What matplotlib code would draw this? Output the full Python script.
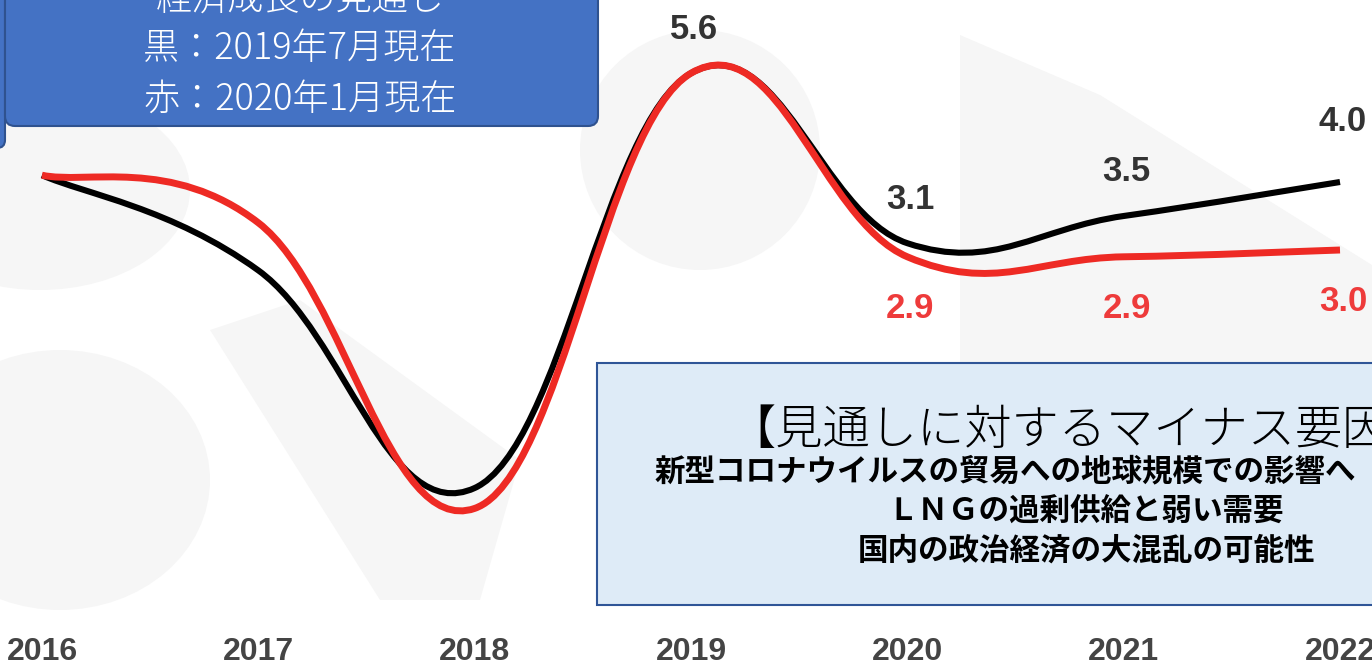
import numpy as np
import matplotlib.pyplot as plt
from matplotlib.path import Path
from matplotlib.patches import PathPatch, FancyBboxPatch, Rectangle, Ellipse, Polygon

plt.rcParams['font.family'] = ['Noto Sans CJK JP', 'DejaVu Sans']

# data
years = [2016, 2017, 2018, 2019, 2020, 2021, 2022]
black_vals = [4.1, 2.7, -0.5, 5.6, 3.1, 3.5, 4.0]   # 2019年7月現在
red_vals = [4.1, 3.4, -0.8, 5.6, 2.9, 2.9, 3.0]     # 2020年1月現在
black_labels = {2019: '5.6', 2020: '3.1', 2021: '3.5', 2022: '4.0'}
red_labels = {2020: '2.9', 2021: '2.9', 2022: '3.0'}

box_title = ['経済成長の見通し', '黒：2019年7月現在', '赤：2020年1月現在']
risk_title = '【見通しに対するマイナス要因'
risk_items = ['新型コロナウイルスの貿易への地球規模での影響へ',
              'ＬＮＧの過剰供給と弱い需要',
              '国内の政治経済の大混乱の可能性']


def smooth_path(xs, ys, k=0.2):
    # cubic bezier through the points (chart-style tension)
    n = len(xs)
    verts = [(xs[0], ys[0])]
    codes = [Path.MOVETO]
    for i in range(n - 1):
        p = max(i - 1, 0)
        q = min(i + 2, n - 1)
        c1 = (xs[i] + k * (xs[i + 1] - xs[p]), ys[i] + k * (ys[i + 1] - ys[p]))
        c2 = (xs[i + 1] - k * (xs[q] - xs[i]), ys[i + 1] - k * (ys[q] - ys[i]))
        verts += [c1, c2, (xs[i + 1], ys[i + 1])]
        codes += [Path.CURVE4] * 3
    return Path(verts, codes)


W, H = 1372, 665
fig = plt.figure(figsize=(W / 100, H / 100), dpi=100)
fig.patch.set_facecolor('white')

# faint background shapes (pixel coords)
bg = fig.add_axes([0, 0, 1, 1], zorder=0)
bg.set_xlim(0, W)
bg.set_ylim(H, 0)
bg.axis('off')
shade = '#f6f6f6'
bg.add_patch(Ellipse((40, 190), 300, 200, color=shade, lw=0))
bg.add_patch(Ellipse((700, 150), 240, 240, color=shade, lw=0))
bg.add_patch(Polygon([(960, 35), (1100, 95), (1372, 265), (1372, 365), (960, 365)],
                     color=shade, lw=0))
bg.add_patch(Ellipse((60, 480), 300, 260, color=shade, lw=0))
bg.add_patch(Polygon([(210, 330), (300, 300), (520, 460), (480, 600), (380, 600)],
                     color=shade, lw=0))

# chart
ax = fig.add_axes([0, 0, 1, 1], zorder=1)
ax.patch.set_alpha(0)
ax.set_xlim(2016 - 42 / 216.3, 2022 + 32 / 216.3)
ax.set_ylim(4.0 - (H - 182) / 68, 4.0 + 182 / 68)
ax.axis('off')

ax.add_patch(PathPatch(smooth_path(years, black_vals), fill=False,
                       edgecolor='black', lw=4.4, capstyle='butt', zorder=2))
ax.add_patch(PathPatch(smooth_path(years, red_vals), fill=False,
                       edgecolor='#ee2a24', lw=5, capstyle='butt', zorder=3))

num_font = dict(family=['Liberation Sans', 'DejaVu Sans'], fontweight='bold')
for i, yr in enumerate(years):
    if yr in black_labels:
        ax.annotate(black_labels[yr], (yr, black_vals[i]), xytext=(3, 44 if yr != 2022 else 60),
                    textcoords='offset pixels', ha='center', va='center',
                    fontsize=25, color='#333333', **num_font)
    if yr in red_labels:
        ax.annotate(red_labels[yr], (yr, red_vals[i]), xytext=(3, -52),
                    textcoords='offset pixels', ha='center', va='center',
                    fontsize=25, color='#ee3b3b', **num_font)
    ax.text(yr, 0.02, str(yr), transform=ax.get_xaxis_transform(),
            ha='center', va='center', fontsize=23, color='#444444', **num_font)

# boxes and notes (pixel coords)
fg = fig.add_axes([0, 0, 1, 1], zorder=5)
fg.patch.set_alpha(0)
fg.set_xlim(0, W)
fg.set_ylim(H, 0)
fg.axis('off')

fg.add_patch(FancyBboxPatch((-20, -30), 25, 178, boxstyle='round,pad=0,rounding_size=8',
                            fc='#4472c4', ec='#2f528f', lw=1.5))
fg.add_patch(FancyBboxPatch((5, -30), 593, 156, boxstyle='round,pad=0,rounding_size=10',
                            fc='#4472c4', ec='#2f528f', lw=1.5))
for txt, yy in zip(box_title, [-1, 49, 99]):
    fg.text(300, yy, txt, ha='center', va='center', fontsize=26, color='white',
            fontweight='light')

fg.add_patch(Rectangle((597, 363), 820, 242, fc='#deebf7', ec='#2f5597', lw=1.5))
fg.text(728, 430, risk_title, ha='left', va='center', fontsize=34,
        fontweight='light', color='black')
fg.text(655, 471, risk_items[0], ha='left', va='center', fontsize=22,
        fontweight='bold', color='black')
fg.text(1086, 512, risk_items[1], ha='center', va='center', fontsize=22,
        fontweight='bold', color='black')
fg.text(1086, 551, risk_items[2], ha='center', va='center', fontsize=22,
        fontweight='bold', color='black')

fig.savefig('out.png', dpi=100)
